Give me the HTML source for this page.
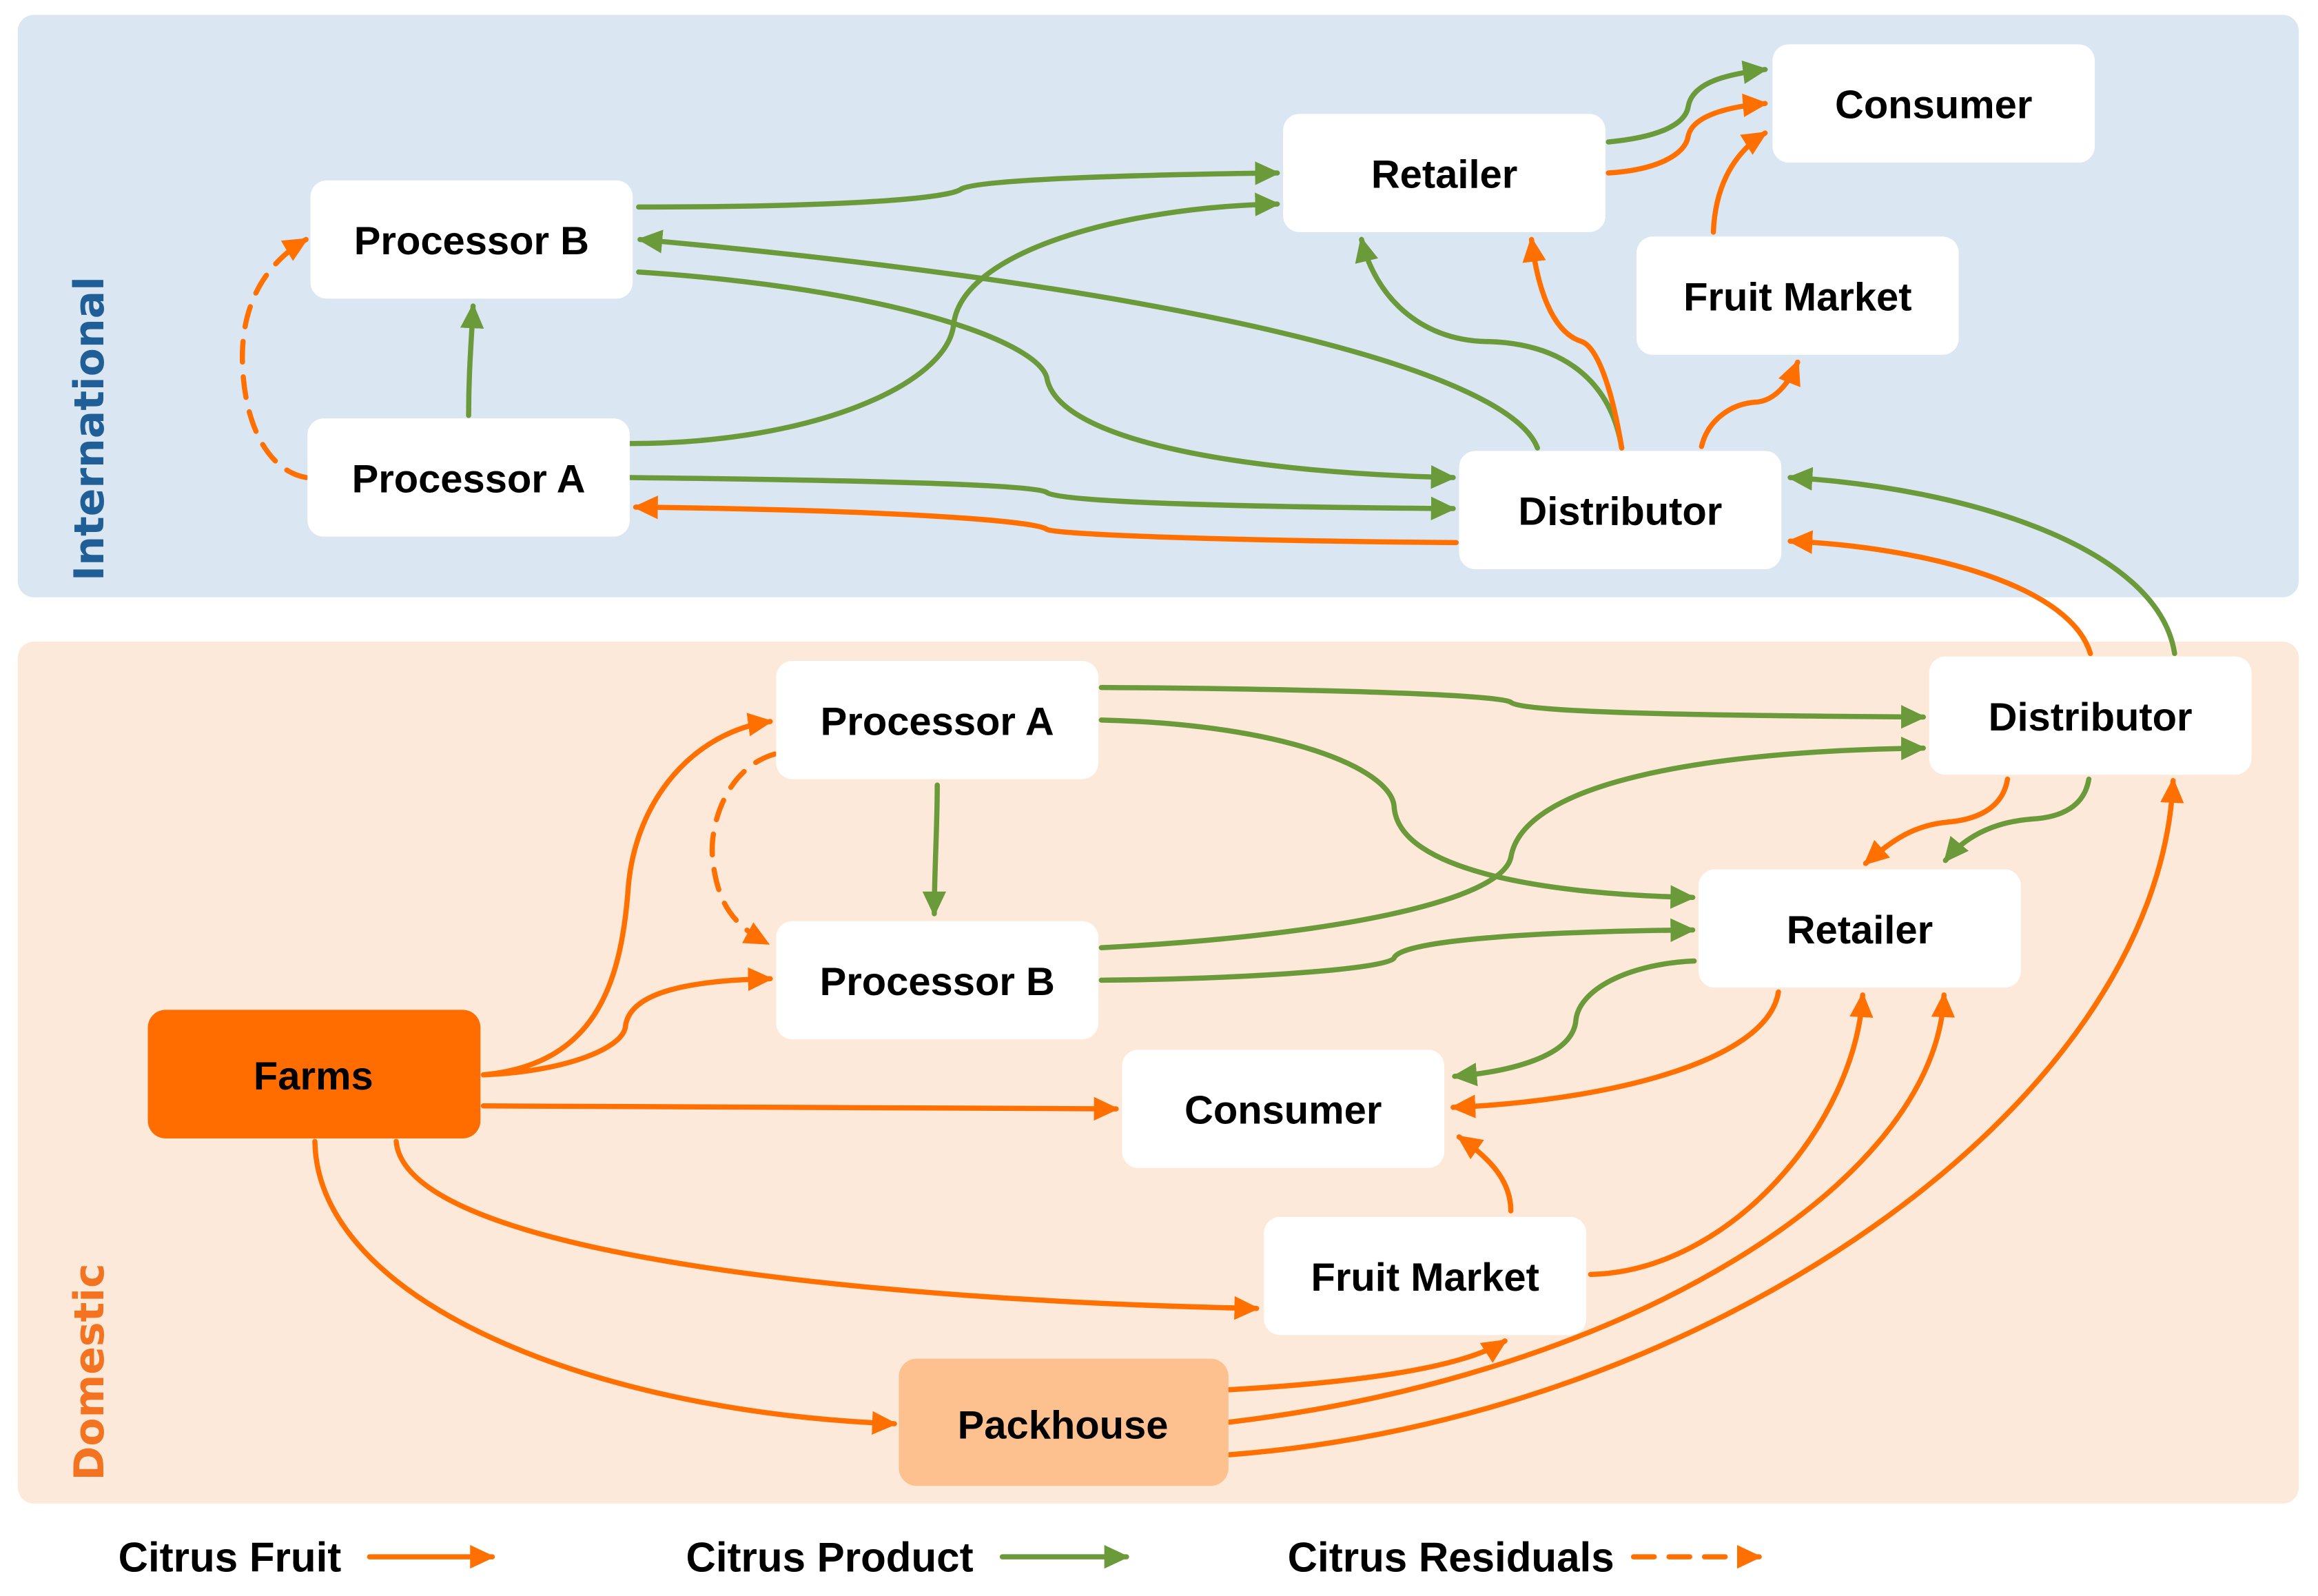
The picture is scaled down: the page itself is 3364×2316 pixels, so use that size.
<!DOCTYPE html>
<html><head><meta charset="utf-8"><style>
html,body{margin:0;padding:0;background:#fff;}
svg{display:block;}
text{font-family:"Liberation Sans",sans-serif;font-weight:bold;}
</style></head><body>
<svg width="3364" height="2316" viewBox="0 0 1568 1079.5" preserveAspectRatio="none" xmlns="http://www.w3.org/2000/svg">
<defs>
<marker id="ao" markerUnits="userSpaceOnUse" markerWidth="18" markerHeight="16" refX="15" refY="8" orient="auto"><path d="M0,0 L17,8 L0,16 Z" fill="#ff7000"/></marker>
<marker id="ag" markerUnits="userSpaceOnUse" markerWidth="18" markerHeight="16" refX="15" refY="8" orient="auto"><path d="M0,0 L17,8 L0,16 Z" fill="#6b9a3a"/></marker>
</defs>
<rect x="12" y="10" width="1543" height="394" rx="11" fill="#dae6f1"/>
<rect x="12" y="434" width="1543" height="583" rx="11" fill="#fde9d9"/>
<text transform="translate(70,290) rotate(-90)" text-anchor="middle" font-size="28" fill="#1f5e96" style="font-family:'DejaVu Sans',sans-serif">International</text>
<text transform="translate(70,928) rotate(-90)" text-anchor="middle" font-size="28" fill="#f47320" style="font-family:'DejaVu Sans',sans-serif">Domestic</text>

<g fill="none" stroke-width="3.5" stroke-linecap="round">
<g stroke="#6b9a3a">
<path d="M317,281 C317,250 319,230 320,207" marker-end="url(#ag)"/>
<path d="M432,140 C560,140 640,135 650,128 C660,121 780,118 864,117" marker-end="url(#ag)"/>
<path d="M1040,303 C1020,250 800,195 433,162" marker-end="url(#ag)"/>
<path d="M432,184 C600,195 700,230 708,255 C715,300 850,320 983,323" marker-end="url(#ag)"/>
<path d="M426,300 C550,300 640,260 645,220 C650,170 760,140 864,138" marker-end="url(#ag)"/>
<path d="M426,323 C600,325 700,328 708,333 C715,340 850,343 983,344" marker-end="url(#ag)"/>
<path d="M1097,303 C1090,260 1060,232 1005,231 C960,230 930,200 921,162" marker-end="url(#ag)"/>
<path d="M1088,96 C1120,93 1140,85 1142,72 C1145,55 1170,50 1194,47" marker-end="url(#ag)"/>
<path d="M1471,442 C1460,370 1330,330 1211,323" marker-end="url(#ag)"/>
</g>
<g stroke="#ff7000">
<path d="M985,367 C850,366 715,362 708,358 C700,352 600,345 430,343" marker-end="url(#ao)"/>
<path d="M1097,303 C1090,260 1080,235 1070,231 C1050,225 1040,195 1036,162" marker-end="url(#ao)"/>
<path d="M1151,302 C1155,285 1170,273 1188,272 C1200,271 1210,260 1216,245" marker-end="url(#ao)"/>
<path d="M1159,157 C1160,130 1170,105 1194,90" marker-end="url(#ao)"/>
<path d="M1088,117 C1120,115 1140,105 1142,92 C1145,78 1170,72 1194,70" marker-end="url(#ao)"/>
<path d="M1414,442 C1400,395 1300,370 1211,366" marker-end="url(#ao)"/>
<path d="M207,323 C180,318 165,285 164,245 C163,205 180,178 207,162" stroke-dasharray="14,10" marker-end="url(#ao)"/>
</g>
<g stroke="#6b9a3a">
<path d="M634,531 C634,560 632,590 632,618" marker-end="url(#ag)"/>
<path d="M745,465 C900,466 1015,470 1022,475 C1030,482 1150,484 1301,485" marker-end="url(#ag)"/>
<path d="M745,487 C870,490 940,520 943,545 C945,590 1050,605 1145,607" marker-end="url(#ag)"/>
<path d="M745,641 C900,633 1015,610 1022,580 C1030,530 1150,508 1301,506" marker-end="url(#ag)"/>
<path d="M745,663 C850,662 940,655 943,648 C948,635 1050,630 1145,629" marker-end="url(#ag)"/>
<path d="M1413,527 C1410,545 1395,553 1374,554 C1350,556 1330,565 1316,582" marker-end="url(#ag)"/>
<path d="M1146,650 C1100,652 1068,670 1066,690 C1064,715 1020,725 984,728" marker-end="url(#ag)"/>
</g>
<g stroke="#ff7000">
<path d="M327,727 C400,720 420,670 425,600 C430,540 470,495 521,488" marker-end="url(#ao)"/>
<path d="M327,727 C380,725 420,710 423,695 C425,670 470,663 521,662" marker-end="url(#ao)"/>
<path d="M327,748 L755,750" marker-end="url(#ao)"/>
<path d="M268,772 C275,850 600,880 850,885" marker-end="url(#ao)"/>
<path d="M213,772 C215,880 400,955 605,963" marker-end="url(#ao)"/>
<path d="M524,510 C490,520 480,560 482,580 C485,610 495,625 519,638" stroke-dasharray="14,10" marker-end="url(#ao)"/>
<path d="M1358,527 C1355,545 1340,554 1318,556 C1295,558 1280,568 1262,584" marker-end="url(#ao)"/>
<path d="M1203,671 C1195,720 1080,745 983,749" marker-end="url(#ao)"/>
<path d="M1022,819 C1022,800 1010,785 987,769" marker-end="url(#ao)"/>
<path d="M1076,862 C1170,860 1255,760 1260,673" marker-end="url(#ao)"/>
<path d="M831,940 C920,935 990,925 1018,907" marker-end="url(#ao)"/>
<path d="M831,962 C1100,930 1310,800 1315,673" marker-end="url(#ao)"/>
<path d="M831,984 C1150,960 1460,750 1470,528" marker-end="url(#ao)"/>
</g>
<path d="M250,1053 L333,1053" stroke="#ff7000" marker-end="url(#ao)"/>
<path d="M678,1053 L762,1053" stroke="#6b9a3a" marker-end="url(#ag)"/>
<path d="M1105,1053 L1190,1053" stroke="#ff7000" stroke-dasharray="14,10" marker-end="url(#ao)"/>
</g>

<g fill="#fff">
<rect x="210" y="122" width="218" height="80" rx="11"/>
<rect x="208" y="283" width="218" height="80" rx="11"/>
<rect x="868" y="77" width="218" height="80" rx="11"/>
<rect x="1199" y="30" width="218" height="80" rx="11"/>
<rect x="1107" y="160" width="218" height="80" rx="11"/>
<rect x="987" y="305" width="218" height="80" rx="11"/>
<rect x="525" y="447" width="218" height="80" rx="11"/>
<rect x="525" y="623" width="218" height="80" rx="11"/>
<rect x="1305" y="444" width="218" height="80" rx="11"/>
<rect x="1149" y="588" width="218" height="80" rx="11"/>
<rect x="759" y="710" width="218" height="80" rx="11"/>
<rect x="855" y="823" width="218" height="80" rx="11"/>
</g>
<rect x="100" y="683" width="225" height="87" rx="12" fill="#ff6d00"/>
<rect x="608" y="919" width="223" height="86" rx="12" fill="#fdc190"/>

<g font-size="27" fill="#000" text-anchor="middle">
<text x="319" y="172">Processor B</text>
<text x="317" y="333">Processor A</text>
<text x="977" y="127">Retailer</text>
<text x="1308" y="80">Consumer</text>
<text x="1216" y="210">Fruit Market</text>
<text x="1096" y="355">Distributor</text>
<text x="634" y="497">Processor A</text>
<text x="634" y="673">Processor B</text>
<text x="1414" y="494">Distributor</text>
<text x="1258" y="638">Retailer</text>
<text x="868" y="760">Consumer</text>
<text x="964" y="873">Fruit Market</text>
<text x="212" y="737">Farms</text>
<text x="719" y="973">Packhouse</text>
</g>
<g font-size="28" fill="#000">
<text x="80" y="1063">Citrus Fruit</text>
<text x="464" y="1063">Citrus Product</text>
<text x="871" y="1063">Citrus Residuals</text>
</g>
</svg>
</body></html>
